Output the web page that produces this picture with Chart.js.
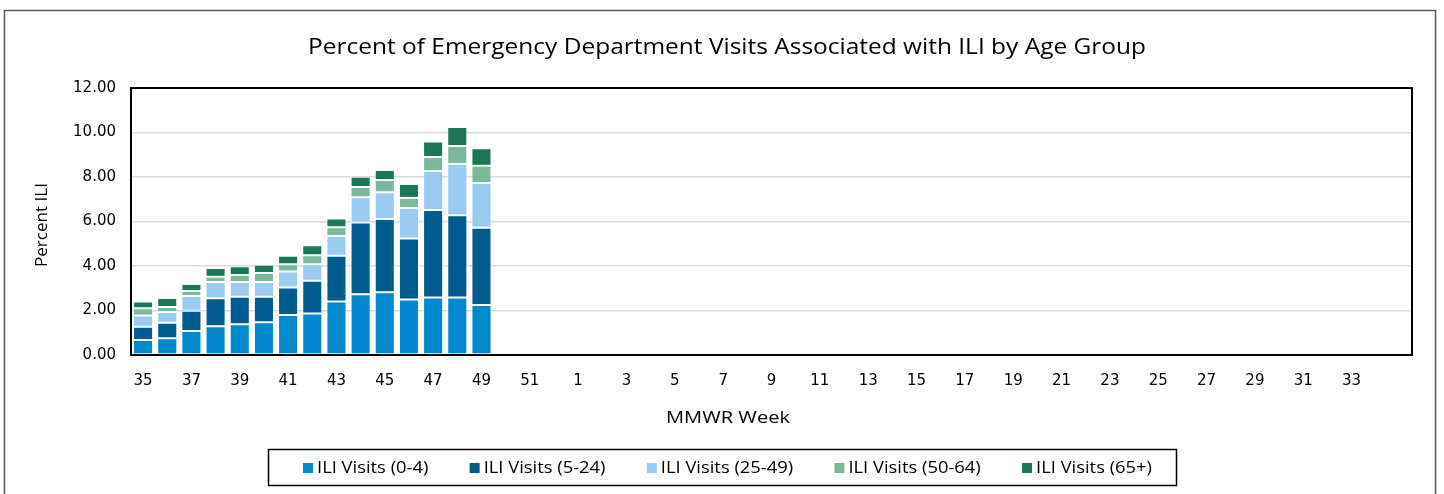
<!DOCTYPE html>
<html>
<head>
<meta charset="utf-8">
<script src="https://cdn.jsdelivr.net/npm/chart.js@4/dist/chart.umd.min.js"></script>
<style>
  html, body { margin: 0; padding: 0; background: #ffffff; }
  #wrap { width: 1444px; height: 494px; position: relative; }
</style>
</head>
<body>
<div id="wrap"><canvas id="c" width="1444" height="494"></canvas></div>
<script>
// ---- Data ----
const chartTitle = 'Percent of Emergency Department Visits Associated with ILI by Age Group';
const xTitle = 'MMWR Week';
const yTitle = 'Percent ILI';

const weeks = ['35','36','37','38','39','40','41','42','43','44','45','46','47','48','49','50','51','52',
  '1','2','3','4','5','6','7','8','9','10','11','12','13','14','15','16','17','18','19','20',
  '21','22','23','24','25','26','27','28','29','30','31','32','33','34',''];

const seriesNames = ['ILI Visits (0-4)', 'ILI Visits (5-24)', 'ILI Visits (25-49)', 'ILI Visits (50-64)', 'ILI Visits (65+)'];
const seriesColors = ['#0088CE', '#005B8E', '#99CCF0', '#7ABA9A', '#1B7758'];

const visits0to4   = [0.67, 0.75, 1.08, 1.29, 1.38, 1.47, 1.80, 1.86, 2.41, 2.73, 2.82, 2.50, 2.58, 2.58, 2.25];
const visits5to24  = [0.60, 0.70, 0.91, 1.26, 1.24, 1.15, 1.23, 1.48, 2.05, 3.22, 3.29, 2.74, 3.94, 3.70, 3.47];
const visits25to49 = [0.51, 0.48, 0.66, 0.73, 0.66, 0.66, 0.72, 0.74, 0.89, 1.14, 1.20, 1.37, 1.75, 2.30, 2.01];
const visits50to64 = [0.32, 0.23, 0.23, 0.24, 0.32, 0.41, 0.33, 0.40, 0.39, 0.46, 0.56, 0.45, 0.63, 0.81, 0.78];
const visits65plus = [0.30, 0.40, 0.31, 0.39, 0.39, 0.37, 0.38, 0.45, 0.39, 0.46, 0.44, 0.63, 0.70, 0.86, 0.78];

const yTicks = [0, 2, 4, 6, 8, 10, 12];

const seriesValues = [visits0to4, visits5to24, visits25to49, visits50to64, visits65plus];

const TEXT_FONT = "'Open Sans', 'DejaVu Sans', sans-serif";
const TICK_FONT = "'DejaVu Sans', sans-serif";

// draw text horizontally stretched to a target width (emulates the narrow, stretched source font)
function fittedText(ctx, text, x, y, size, targetWidth, rotate) {
  ctx.save();
  ctx.font = size + 'px ' + TEXT_FONT;
  const w = ctx.measureText(text).width;
  ctx.translate(x, y);
  if (rotate) ctx.rotate(-Math.PI / 2);
  ctx.scale(targetWidth / w, 1);
  ctx.textAlign = 'center';
  ctx.textBaseline = 'middle';
  ctx.fillStyle = '#000000';
  ctx.fillText(text, 0, 0);
  ctx.restore();
}

const decorPlugin = {
  id: 'decor',
  beforeDraw(chart) {
    const ctx = chart.ctx;
    ctx.save();
    ctx.fillStyle = '#ffffff';
    ctx.fillRect(0, 0, chart.width, chart.height);
    ctx.strokeStyle = '#595959';
    ctx.lineWidth = 1.5;
    ctx.strokeRect(4.5, 10.5, 1435.5 - 4.5, chart.height + 20);
    ctx.restore();
  },
  afterDatasetsDraw(chart) {
    const a = chart.chartArea;
    const ctx = chart.ctx;
    ctx.save();
    ctx.strokeStyle = '#000000';
    ctx.lineWidth = 2;
    ctx.strokeRect(a.left, a.top, a.right - a.left, a.bottom - a.top);
    ctx.restore();
  },
  afterDraw(chart) {
    const ctx = chart.ctx;
    fittedText(ctx, chartTitle, 727, 48, 21, 838, false);
    fittedText(ctx, xTitle, 728, 418, 17, 124, false);
    fittedText(ctx, yTitle, 42, 225, 17, 84, true);

    // legend
    ctx.save();
    const boxL = 268.5, boxT = 449.5, boxR = 1176.5, boxB = 485.5;
    ctx.strokeStyle = '#000000';
    ctx.lineWidth = 1.5;
    ctx.strokeRect(boxL, boxT, boxR - boxL, boxB - boxT);
    ctx.font = "17px " + TEXT_FONT;
    const k = 1.08;
    const sq = 10, sqGap = 4;
    const ds = chart.data.datasets;
    const tw = ds.map(d => ctx.measureText(d.label).width * k);
    const startX = 303, endX = 1152;
    const sumItems = tw.reduce((s, w) => s + w + sq + sqGap, 0);
    const itemGap = (endX - startX - sumItems) / (ds.length - 1);
    let x = startX;
    const cy = (boxT + boxB) / 2 + 0.5;
    ds.forEach((d, i) => {
      ctx.fillStyle = d.backgroundColor;
      ctx.fillRect(x, cy - sq / 2, sq, sq);
      ctx.save();
      ctx.translate(x + sq + sqGap, cy);
      ctx.scale(k, 1);
      ctx.fillStyle = '#000000';
      ctx.textAlign = 'left';
      ctx.textBaseline = 'middle';
      ctx.fillText(d.label, 0, 0);
      ctx.restore();
      x += sq + sqGap + tw[i] + itemGap;
    });
    ctx.restore();
  }
};

new Chart(document.getElementById('c'), {
  type: 'bar',
  data: {
    labels: weeks,
    datasets: seriesNames.map((name, i) => ({
      label: name,
      data: seriesValues[i],
      backgroundColor: seriesColors[i],
      borderColor: 'rgba(255,255,255,0.35)',
      borderWidth: 1,
      borderSkipped: false,
      barPercentage: 0.83,
      categoryPercentage: 1.0
    }))
  },
  options: {
    responsive: false,
    animation: false,
    layout: { padding: { left: 10, top: 88, right: 32, bottom: 0 } },
    plugins: {
      legend: { display: false },
      title: { display: false },
      tooltip: { enabled: false }
    },
    scales: {
      x: {
        stacked: true,
        grid: { display: false, drawTicks: false },
        border: { display: true, color: '#000000', width: 2 },
        ticks: {
          autoSkip: false,
          maxRotation: 0,
          minRotation: 0,
          padding: 17,
          color: '#000000',
          font: { family: TICK_FONT, size: 15 },
          callback: function(value, index) { return index % 2 === 0 ? weeks[index] : ''; }
        },
        afterFit(scale) { scale.height = 139; }
      },
      y: {
        stacked: true,
        min: 0,
        max: 12,
        grid: { color: '#d9d9d9', lineWidth: 1.5, drawTicks: false },
        border: { display: true, color: '#000000', width: 2 },
        afterBuildTicks(scale) { scale.ticks = yTicks.map(v => ({ value: v })); },
        ticks: {
          padding: 15,
          color: '#000000',
          font: { family: TICK_FONT, size: 15 },
          callback: v => Number(v).toFixed(2)
        },
        title: { display: false },
        afterFit(scale) { scale.width = 121; }
      }
    }
  },
  plugins: [decorPlugin]
});
</script>
</body>
</html>
